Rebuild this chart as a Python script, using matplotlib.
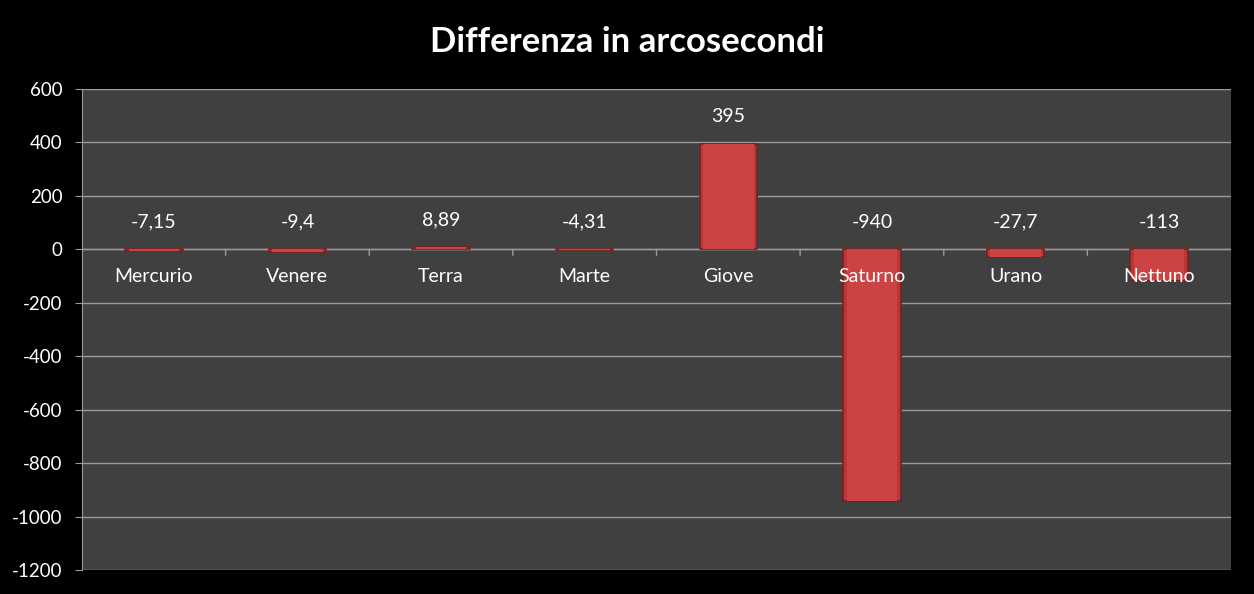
import matplotlib
matplotlib.use("Agg")
import matplotlib.pyplot as plt
import numpy as np

categories = ["Mercurio", "Venere", "Terra", "Marte", "Giove", "Saturno", "Urano", "Nettuno"]
values = [-7.15, -9.4, 8.89, -4.31, 395, -940, -27.7, -113]
value_labels = ["-7,15", "-9,4", "8,89", "-4,31", "395", "-940", "-27,7", "-113"]
yticks = [600, 400, 200, 0, -200, -400, -600, -800, -1000, -1200]
title = "Differenza in arcosecondi"

plt.rcParams['font.family'] = ['Lato', 'DejaVu Sans']

fig = plt.figure(figsize=(12.54, 5.94), dpi=100, facecolor='black')
ax = fig.add_axes([82/1254, 1 - 570/594, (1231 - 82)/1254, (570 - 89)/594])
ax.set_facecolor('#404040')

x = np.arange(len(categories))
ax.set_xlim(-0.5, len(categories) - 0.5)
ax.set_ylim(-1200, 600)
ax.set_yticks(yticks)
ax.set_yticklabels([str(t) for t in yticks], color='white', fontsize=13.5)
ax.yaxis.grid(True, color='#9a9a9a', linewidth=1.0)
ax.set_axisbelow(True)
ax.tick_params(axis='y', length=5, color='#9a9a9a', pad=9)
ax.tick_params(axis='x', length=0)
ax.set_xticks([])
for s in ['top', 'right', 'bottom']:
    ax.spines[s].set_visible(False)
ax.spines['left'].set_color('#9a9a9a')

# zero line with small ticks at category boundaries
ax.axhline(0, color='#9a9a9a', linewidth=1.0, zorder=1)
for b in np.arange(0.5, len(categories) - 0.5, 1.0):
    ax.annotate('', xy=(b, 0), xytext=(0, -6), textcoords='offset pixels',
                arrowprops=dict(arrowstyle='-', color='#9a9a9a', lw=1, shrinkA=0, shrinkB=0))

bw = 0.40
bars = ax.bar(x, values, width=bw, color='#b83636', edgecolor='#7a2020', linewidth=1.2, zorder=3)

# bevel highlight: inner lighter rectangle derived from each bar
for rect in bars:
    x0, y0 = rect.get_x(), rect.get_y()
    w, h = rect.get_width(), rect.get_height()
    ax.bar(x0 + w / 2, h, width=w * 0.88, bottom=y0, color='#cc4343', linewidth=0, zorder=3.5)

for xi, v, lab in zip(x, values, value_labels):
    top = max(v, 0)
    ax.annotate(lab, xy=(xi, top), xytext=(0, 27), textcoords='offset pixels',
                ha='center', va='center', color='white', fontsize=14)
    ax.annotate(categories[xi], xy=(xi, 0), xytext=(0, -27), textcoords='offset pixels',
                ha='center', va='center', color='white', fontsize=14, zorder=5)

fig.text(0.5, 1 - 42/594, title, ha='center', va='center',
         color='white', fontsize=25, fontweight='bold')

fig.savefig('out.png', dpi=100, facecolor='black')
